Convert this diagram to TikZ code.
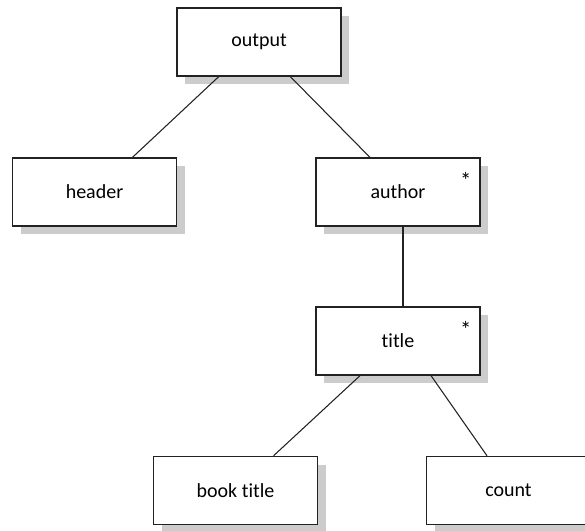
\documentclass[tikz,border=0pt]{standalone}
\usepackage{fontspec}
\setmainfont{Carlito}[Ligatures=NoCommon]
\usetikzlibrary{calc,shadows}
\definecolor{shade}{HTML}{CCCCCC}
\definecolor{edge}{HTML}{222222}
\begin{document}
\begin{tikzpicture}[x=0.75pt,y=-0.75pt,
  elem/.style={rectangle,draw=edge,line width=1.1pt,fill=white,
    minimum width=123pt,minimum height=51pt,inner sep=0pt,
    font=\fontsize{15}{17}\selectfont,
    drop shadow={shadow xshift=6pt,shadow yshift=-6pt,fill=shade,opacity=1}},
  star/.style={font=\fontsize{17}{18}\selectfont,inner sep=0pt},
  link/.style={draw=edge,line width=0.8pt}]
\useasboundingbox (0,0) rectangle (585,531);
\node[elem] (output) at (259,42) {output};
\node[elem] (header) at (94.5,192) {header};
\node[elem] (author) at (398,192) {author};
\node[elem] (title) at (398,341) {title};
\node[elem] (booktitle) at (235.5,490.5) {book title};
\node[elem] (count) at (508.5,490.5) {count};
\node[star] (s1) at ($(author.north east)+(-15,23)$) {*};
\node[star] (s2) at ($(title.north east)+(-15,23)$) {*};
\draw[link] ($(output.south west)!0.256!(output.south east)$) -- ($(header.north west)!0.73!(header.north east)$);
\draw[link] ($(output.south west)!0.69!(output.south east)$) -- ($(author.north west)!0.33!(author.north east)$);
\draw[link] ($(author.south west)!0.53!(author.south east)$) -- ($(title.north west)!0.53!(title.north east)$);
\draw[link] ($(title.south west)!0.27!(title.south east)$) -- ($(booktitle.north west)!0.73!(booktitle.north east)$);
\draw[link] ($(title.south west)!0.70!(title.south east)$) -- ($(count.north west)!0.37!(count.north east)$);
\end{tikzpicture}
\end{document}
